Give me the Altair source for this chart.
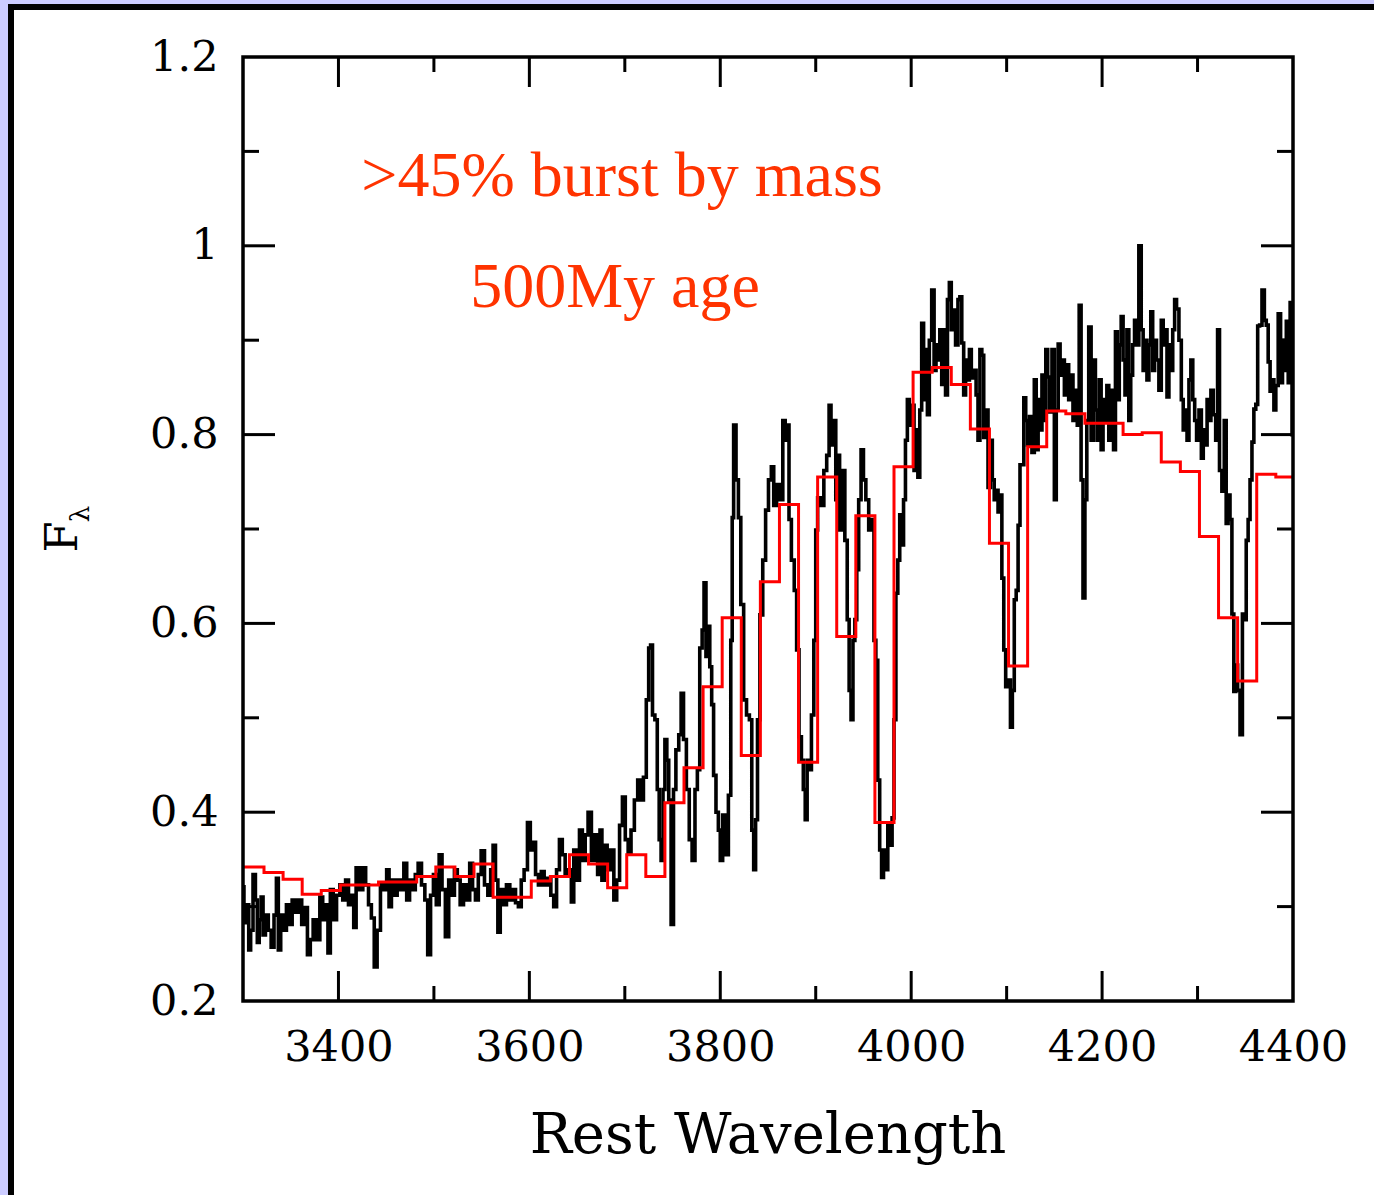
import altair as alt
import pandas as pd

# ---------------- data ----------------
obs_wl = [
    3300, 3302, 3305, 3307, 3309, 3312, 3314, 3316, 3318, 3320,
    3322, 3325, 3328, 3331, 3334, 3336, 3338, 3341, 3344, 3347,
    3350, 3353, 3357, 3360, 3363, 3366, 3369, 3372, 3375, 3379,
    3382, 3385, 3388, 3390, 3393, 3396, 3400, 3403, 3406, 3409,
    3412, 3415, 3417, 3420, 3424, 3427, 3430, 3433, 3436, 3439,
    3442, 3446, 3449, 3452, 3454, 3457, 3460, 3463, 3467, 3470,
    3473, 3476, 3479, 3482, 3485, 3489, 3492, 3495, 3498, 3501,
    3504, 3507, 3510, 3514, 3517, 3520, 3523, 3526, 3529, 3533,
    3536, 3539, 3542, 3545, 3548, 3551, 3555, 3558, 3561, 3563,
    3566, 3568, 3571, 3574, 3578, 3581, 3584, 3587, 3590, 3593,
    3596, 3600, 3602, 3605, 3608, 3611, 3614, 3617, 3621, 3624,
    3627, 3630, 3633, 3636, 3639, 3643, 3645, 3648, 3651, 3654,
    3657, 3660, 3663, 3667, 3670, 3673, 3675, 3677, 3680, 3683,
    3687, 3690, 3693, 3696, 3699, 3702, 3705, 3708, 3712, 3715,
    3718, 3721, 3724, 3726, 3728, 3730, 3733, 3735, 3737, 3739,
    3741, 3743, 3745, 3747, 3750, 3752, 3755, 3758, 3760, 3763,
    3766, 3769, 3772, 3775, 3777, 3780, 3782, 3784, 3786, 3788,
    3790, 3792, 3794, 3797, 3799, 3801, 3804, 3807, 3810, 3812,
    3813, 3815, 3818, 3820, 3823, 3826, 3829, 3832, 3834, 3836,
    3838, 3840, 3843, 3846, 3849, 3852, 3855, 3857, 3861, 3864,
    3867, 3869, 3871, 3873, 3876, 3879, 3881, 3884, 3886, 3888,
    3890, 3892, 3894, 3897, 3899, 3901, 3903, 3907, 3910, 3913,
    3915, 3917, 3920, 3922, 3924, 3926, 3929, 3932, 3934, 3936,
    3938, 3940, 3942, 3944, 3946, 3949, 3951, 3954, 3957, 3960,
    3962, 3964, 3966, 3968, 3970, 3972, 3974, 3977, 3979, 3981,
    3983, 3985, 3987, 3989, 3991, 3993, 3995, 3997, 3999, 4002,
    4004, 4006, 4008, 4010, 4012, 4014, 4016, 4018, 4020, 4023,
    4025, 4027, 4029, 4031, 4033, 4035, 4037, 4039, 4041, 4043,
    4045, 4048, 4050, 4052, 4054, 4056, 4058, 4060, 4062, 4064,
    4067, 4069, 4071, 4073, 4075, 4077, 4079, 4082, 4084, 4086,
    4088, 4090, 4092, 4094, 4096, 4098, 4100, 4103, 4105, 4107,
    4109, 4111, 4113, 4115, 4117, 4119, 4121, 4123, 4125, 4128,
    4130, 4132, 4134, 4136, 4138, 4140, 4142, 4144, 4146, 4149,
    4151, 4153, 4155, 4157, 4159, 4162, 4164, 4166, 4168, 4171,
    4173, 4175, 4177, 4179, 4181, 4183, 4185, 4187, 4190, 4192,
    4194, 4196, 4198, 4200, 4202, 4204, 4206, 4208, 4211, 4213,
    4215, 4217, 4219, 4221, 4223, 4225, 4227, 4229, 4231, 4233,
    4235, 4237, 4240, 4242, 4244, 4246, 4248, 4250, 4252, 4254,
    4256, 4258, 4261, 4263, 4265, 4267, 4269, 4271, 4273, 4275,
    4277, 4279, 4282, 4284, 4286, 4288, 4290, 4292, 4294, 4296,
    4298, 4300, 4303, 4305, 4307, 4309, 4311, 4313, 4315, 4318,
    4320, 4322, 4324, 4327, 4329, 4331, 4333, 4335, 4337, 4339,
    4341, 4343, 4346, 4348, 4350, 4352, 4354, 4356, 4358, 4360,
    4362, 4364, 4366, 4369, 4371, 4373, 4375, 4377, 4379, 4381,
    4383, 4386, 4388, 4390, 4392, 4394, 4396, 4398, 4400,
]
obs_flux = [
    0.321, 0.283, 0.302, 0.254, 0.275, 0.334, 0.307, 0.262, 0.286, 0.310,
    0.270, 0.291, 0.275, 0.257, 0.291, 0.330, 0.254, 0.291, 0.275, 0.302,
    0.281, 0.307, 0.294, 0.307, 0.281, 0.299, 0.249, 0.265, 0.286, 0.265,
    0.310, 0.286, 0.302, 0.251, 0.318, 0.286, 0.312, 0.323, 0.307, 0.328,
    0.302, 0.312, 0.278, 0.341, 0.318, 0.341, 0.323, 0.302, 0.288, 0.236,
    0.275, 0.323, 0.318, 0.339, 0.300, 0.328, 0.312, 0.328, 0.318, 0.346,
    0.307, 0.328, 0.318, 0.334, 0.346, 0.323, 0.307, 0.249, 0.312, 0.334,
    0.302, 0.355, 0.318, 0.268, 0.328, 0.312, 0.339, 0.328, 0.302, 0.323,
    0.307, 0.346, 0.318, 0.307, 0.334, 0.359, 0.323, 0.312, 0.339, 0.365,
    0.328, 0.273, 0.318, 0.302, 0.323, 0.307, 0.318, 0.304, 0.300, 0.328,
    0.339, 0.389, 0.360, 0.368, 0.334, 0.323, 0.337, 0.323, 0.330, 0.312,
    0.300, 0.339, 0.371, 0.355, 0.334, 0.339, 0.305, 0.360, 0.328, 0.381,
    0.349, 0.376, 0.400, 0.349, 0.376, 0.334, 0.381, 0.328, 0.365, 0.339,
    0.360, 0.307, 0.328, 0.386, 0.416, 0.371, 0.357, 0.381, 0.413, 0.434,
    0.413, 0.437, 0.519, 0.574, 0.577, 0.503, 0.498, 0.424, 0.371, 0.349,
    0.424, 0.477, 0.455, 0.413, 0.281, 0.424, 0.466, 0.482, 0.526, 0.477,
    0.424, 0.371, 0.349, 0.424, 0.445, 0.574, 0.593, 0.643, 0.565, 0.597,
    0.554, 0.514, 0.439, 0.400, 0.381, 0.349, 0.397, 0.355, 0.418, 0.582,
    0.712, 0.810, 0.752, 0.712, 0.620, 0.519, 0.503, 0.498, 0.381, 0.339,
    0.392, 0.498, 0.609, 0.667, 0.720, 0.752, 0.766, 0.725, 0.747, 0.731,
    0.815, 0.794, 0.810, 0.710, 0.667, 0.635, 0.572, 0.480, 0.455, 0.424,
    0.392, 0.455, 0.445, 0.503, 0.582, 0.699, 0.733, 0.725, 0.762, 0.778,
    0.831, 0.789, 0.815, 0.731, 0.778, 0.699, 0.762, 0.688, 0.604, 0.529,
    0.498, 0.582, 0.604, 0.657, 0.731, 0.784, 0.752, 0.731, 0.699, 0.710,
    0.582, 0.561, 0.434, 0.360, 0.331, 0.360, 0.339, 0.386, 0.365, 0.394,
    0.498, 0.632, 0.667, 0.715, 0.683, 0.731, 0.794, 0.837, 0.810, 0.831,
    0.762, 0.805, 0.755, 0.826, 0.918, 0.837, 0.890, 0.821, 0.900, 0.953,
    0.868, 0.895, 0.879, 0.911, 0.853, 0.911, 0.842, 0.943, 0.961, 0.911,
    0.932, 0.895, 0.943, 0.946, 0.897, 0.842, 0.879, 0.858, 0.890, 0.860,
    0.868, 0.842, 0.794, 0.890, 0.884, 0.797, 0.826, 0.744, 0.794, 0.752,
    0.731, 0.741, 0.718, 0.736, 0.648, 0.572, 0.533, 0.540, 0.490, 0.529,
    0.625, 0.635, 0.704, 0.768, 0.768, 0.839, 0.815, 0.789, 0.819, 0.781,
    0.858, 0.784, 0.837, 0.805, 0.863, 0.815, 0.890, 0.861, 0.824, 0.890,
    0.731, 0.826, 0.896, 0.863, 0.879, 0.842, 0.874, 0.837, 0.863, 0.815,
    0.847, 0.810, 0.937, 0.752, 0.627, 0.731, 0.815, 0.914, 0.794, 0.879,
    0.826, 0.794, 0.858, 0.784, 0.837, 0.815, 0.852, 0.794, 0.847, 0.784,
    0.909, 0.837, 0.895, 0.925, 0.879, 0.842, 0.911, 0.815, 0.863, 0.895,
    0.921, 0.895, 1.000, 0.911, 0.868, 0.900, 0.858, 0.895, 0.930, 0.868,
    0.900, 0.879, 0.847, 0.921, 0.895, 0.911, 0.840, 0.895, 0.868, 0.911,
    0.943, 0.933, 0.900, 0.837, 0.805, 0.826, 0.794, 0.858, 0.879, 0.837,
    0.815, 0.794, 0.826, 0.775, 0.805, 0.789, 0.837, 0.815, 0.847, 0.821,
    0.794, 0.911, 0.762, 0.740, 0.815, 0.706, 0.736, 0.710, 0.610, 0.528,
    0.556, 0.529, 0.482, 0.610, 0.604, 0.688, 0.710, 0.752, 0.792, 0.827,
    0.832, 0.915, 0.916, 0.953, 0.921, 0.916, 0.877, 0.846, 0.858, 0.826,
    0.852, 0.928, 0.855, 0.900, 0.868, 0.920, 0.855, 0.940, 0.800,
]

model_wl = [
    3300, 3322, 3342, 3362, 3382, 3402, 3422, 3442, 3462, 3482,
    3502, 3522, 3542, 3562, 3582, 3602, 3622, 3642, 3662, 3682,
    3702, 3722, 3742, 3762, 3782, 3802, 3822, 3842, 3862, 3882,
    3902, 3922, 3942, 3962, 3982, 4002, 4022, 4042, 4062, 4082,
    4102, 4122, 4142, 4162, 4182, 4202, 4222, 4242, 4262, 4282,
    4302, 4322, 4342, 4362, 4382, 4400,
]
model_flux = [
    0.342, 0.336, 0.329, 0.313, 0.317, 0.323, 0.323, 0.326, 0.326, 0.332,
    0.342, 0.332, 0.345, 0.310, 0.310, 0.327, 0.332, 0.355, 0.345, 0.320,
    0.355, 0.332, 0.410, 0.447, 0.533, 0.606, 0.460, 0.644, 0.726, 0.453,
    0.755, 0.586, 0.714, 0.389, 0.766, 0.866, 0.871, 0.853, 0.806, 0.685,
    0.555, 0.787, 0.825, 0.822, 0.812, 0.812, 0.800, 0.802, 0.771, 0.761,
    0.692, 0.606, 0.539, 0.758, 0.755, 0.755,
]

x_major = [3400, 3600, 3800, 4000, 4200]
x_minor = [3500, 3700, 3900, 4100, 4300]
y_major = [0.4, 0.6, 0.8, 1.0]
y_minor = [0.3, 0.5, 0.7, 0.9, 1.1]
x_label_values = [3400, 3600, 3800, 4000, 4200, 4400]
y_label_values = [0.2, 0.4, 0.6, 0.8, 1.0, 1.2]

note_line1 = ">45% burst by mass"
note_line2 = "500My age"
x_title = "Rest Wavelength"

# ---------------- chart ----------------
W, H = 1050, 944
xs = alt.Scale(domain=[3300, 4400], nice=False, zero=False)
ys = alt.Scale(domain=[0.2, 1.2], nice=False, zero=False)

axis_common = dict(title=None, grid=False, ticks=False, domain=False, zindex=2,
                   labelFont="DejaVu Serif", labelFontSize=43, labelColor="black",
                   labelPadding=25, labelFlush=False, labelOverlap=False)
x_axis = alt.Axis(values=x_label_values, format="d", **axis_common)
y_axis = alt.Axis(values=y_label_values,
                  labelExpr="datum.value == 1 ? '1' : format(datum.value, '.1f')",
                  **axis_common)

obs = pd.DataFrame({"wl": obs_wl, "flux": obs_flux})
mod = pd.DataFrame({"wl": model_wl, "flux": model_flux})
one = pd.DataFrame({"k": [0]})

black_border = alt.Chart(one).mark_rect(color="black").encode(
    x=alt.value(-235), x2=alt.value(1200), y=alt.value(-53), y2=alt.value(1200))
white_bg = alt.Chart(one).mark_rect(color="white").encode(
    x=alt.value(-229), x2=alt.value(1200), y=alt.value(-47), y2=alt.value(1200))

obs_line = alt.Chart(obs).mark_line(color="black", strokeWidth=3.6, interpolate="step", clip=True).encode(
    x=alt.X("wl:Q", scale=xs, axis=x_axis),
    y=alt.Y("flux:Q", scale=ys, axis=y_axis),
)

mod_line = alt.Chart(mod).mark_line(color="#ff0000", strokeWidth=3, interpolate="step-after", clip=True).encode(
    x=alt.X("wl:Q", scale=xs, axis=x_axis),
    y=alt.Y("flux:Q", scale=ys, axis=y_axis),
)


def xticks(vals, length):
    df = pd.DataFrame({"wl": vals})
    bottom = alt.Chart(df).mark_rule(color="black", strokeWidth=3).encode(
        x=alt.X("wl:Q", scale=xs, axis=x_axis), y=alt.value(H), y2=alt.value(H - length))
    top = alt.Chart(df).mark_rule(color="black", strokeWidth=3).encode(
        x=alt.X("wl:Q", scale=xs, axis=x_axis), y=alt.value(0), y2=alt.value(length))
    return [bottom, top]


def yticks(vals, length):
    df = pd.DataFrame({"flux": vals})
    left = alt.Chart(df).mark_rule(color="black", strokeWidth=3).encode(
        y=alt.Y("flux:Q", scale=ys, axis=y_axis), x=alt.value(0), x2=alt.value(length))
    right = alt.Chart(df).mark_rule(color="black", strokeWidth=3).encode(
        y=alt.Y("flux:Q", scale=ys, axis=y_axis), x=alt.value(W), x2=alt.value(W - length))
    return [left, right]


ticks = xticks(x_major, 30) + xticks(x_minor, 15) + yticks(y_major, 32) + yticks(y_minor, 16)

frame = alt.Chart(one).mark_rect(filled=False, stroke="black", strokeWidth=3.5).encode(
    x=alt.value(0), x2=alt.value(W), y=alt.value(0), y2=alt.value(H))

note1 = alt.Chart(one).mark_text(text=note_line1, font="Liberation Serif", fontSize=64,
                                 color="#ff3300", align="center", baseline="alphabetic").encode(
    x=alt.value(379), y=alt.value(139))
note2 = alt.Chart(one).mark_text(text=note_line2, font="Liberation Serif", fontSize=64,
                                 color="#ff3300", align="center", baseline="alphabetic").encode(
    x=alt.value(372), y=alt.value(250))

xtitle = alt.Chart(one).mark_text(text=x_title, font="DejaVu Serif", fontSize=56,
                                  color="black", align="center", baseline="alphabetic").encode(
    x=alt.value(525), y=alt.value(1096))
ytitle_f = alt.Chart(one).mark_text(text="F", font="DejaVu Serif", fontSize=45, angle=270,
                                    color="black", align="center", baseline="alphabetic").encode(
    x=alt.value(-166), y=alt.value(480))
ytitle_l = alt.Chart(one).mark_text(text="λ", font="DejaVu Serif", fontSize=26, angle=270,
                                    color="black", align="center", baseline="alphabetic").encode(
    x=alt.value(-154), y=alt.value(457))

chart = alt.layer(
    black_border, white_bg, obs_line, mod_line, *ticks, frame,
    note1, note2, xtitle, ytitle_f, ytitle_l,
).properties(
    width=W, height=H,
    padding={"left": 243, "top": 57, "right": 81, "bottom": 194},
    autosize=alt.AutoSizeParams(type="none"),
).configure(background="#ccccff").configure_view(strokeWidth=0)

chart.save("out.html", embed_options={"renderer": "svg", "actions": False})
